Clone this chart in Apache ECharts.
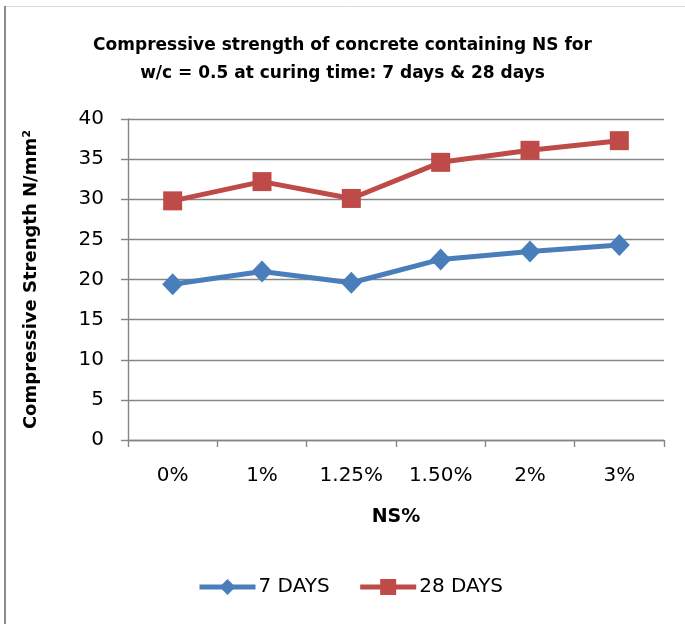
<!DOCTYPE html>
<html>
<head>
<meta charset="utf-8">
<script src="https://cdn.jsdelivr.net/npm/echarts@6/dist/echarts.min.js"></script>
<style>
  html, body { margin: 0; padding: 0; background: #fff; }
  #chart { width: 685px; height: 624px; }
</style>
</head>
<body>
<div id="chart"></div>
<script>
// NS content categories and compressive strength (N/mm²) by curing age
const categories = ['0%', '1%', '1.25%', '1.50%', '2%', '3%'];
const days7 = [19.4, 21.0, 19.6, 22.5, 23.5, 24.3];
const days28 = [29.8, 32.2, 30.1, 34.6, 36.1, 37.3];
const yTicks = { min: 0, max: 40, interval: 5 };

const FONT = 'DejaVu Sans';
const chart = echarts.init(document.getElementById('chart'), null, { renderer: 'canvas' });

chart.setOption({
  backgroundColor: '#ffffff',
  animation: false,
  title: {
    text: 'Compressive strength of concrete containing NS for\nw/c = 0.5 at curing time: 7 days & 28 days',
    left: 'center',
    top: 27,
    textStyle: { fontFamily: FONT, fontWeight: 'bold', fontSize: 17, lineHeight: 28, color: '#000' }
  },
  legend: {
    left: 197,
    top: 577,
    padding: 0,
    itemWidth: 56,
    itemHeight: 20,
    itemGap: 28,
    lineStyle: { width: 5 },
    textStyle: { fontFamily: FONT, fontSize: 20, color: '#000', padding: [0, 0, 0, -2] },
    data: ['7 DAYS', '28 DAYS']
  },
  grid: { left: 128, right: 21, top: 119, bottom: 184, containLabel: false },
  xAxis: {
    type: 'category',
    data: categories,
    boundaryGap: true,
    name: 'NS%',
    nameLocation: 'middle',
    nameGap: 68,
    nameTextStyle: { fontFamily: FONT, fontWeight: 'bold', fontSize: 19, color: '#000' },
    axisLine: { lineStyle: { color: '#868686', width: 1.4 } },
    axisTick: { show: true, length: 7, lineStyle: { color: '#868686', width: 1.4 } },
    axisLabel: { fontFamily: FONT, fontSize: 20, color: '#000', margin: 26 },
    splitLine: { show: false }
  },
  yAxis: {
    type: 'value',
    min: yTicks.min,
    max: yTicks.max,
    interval: yTicks.interval,
    name: 'Compressive Strength N/mm²',
    nameLocation: 'middle',
    nameGap: 88,
    nameTextStyle: { fontFamily: FONT, fontWeight: 'bold', fontSize: 18, color: '#000' },
    axisLine: { show: true, lineStyle: { color: '#868686', width: 1.4 } },
    axisTick: { show: true, length: 7, lineStyle: { color: '#868686', width: 1.4 } },
    axisLabel: { fontFamily: FONT, fontSize: 20, color: '#000', margin: 24 },
    splitLine: { show: true, lineStyle: { color: '#868686', width: 1.4 } }
  },
  series: [
    {
      name: '7 DAYS',
      type: 'line',
      data: days7,
      symbol: 'diamond',
      symbolSize: [21, 22],
      itemStyle: { color: '#4a7ebb' },
      lineStyle: { color: '#4a7ebb', width: 5 },
      z: 3
    },
    {
      name: '28 DAYS',
      type: 'line',
      data: days28,
      symbol: 'rect',
      symbolSize: 19,
      itemStyle: { color: '#be4b48' },
      lineStyle: { color: '#be4b48', width: 5 },
      z: 3
    }
  ],
  graphic: [
    { type: 'line', shape: { x1: 5, y1: 6, x2: 5, y2: 624 }, style: { stroke: '#8c8c8c', lineWidth: 2 } },
    { type: 'line', shape: { x1: 6, y1: 6.5, x2: 685, y2: 6.5 }, style: { stroke: '#d9d9d9', lineWidth: 1 } }
  ]
});
</script>
</body>
</html>
